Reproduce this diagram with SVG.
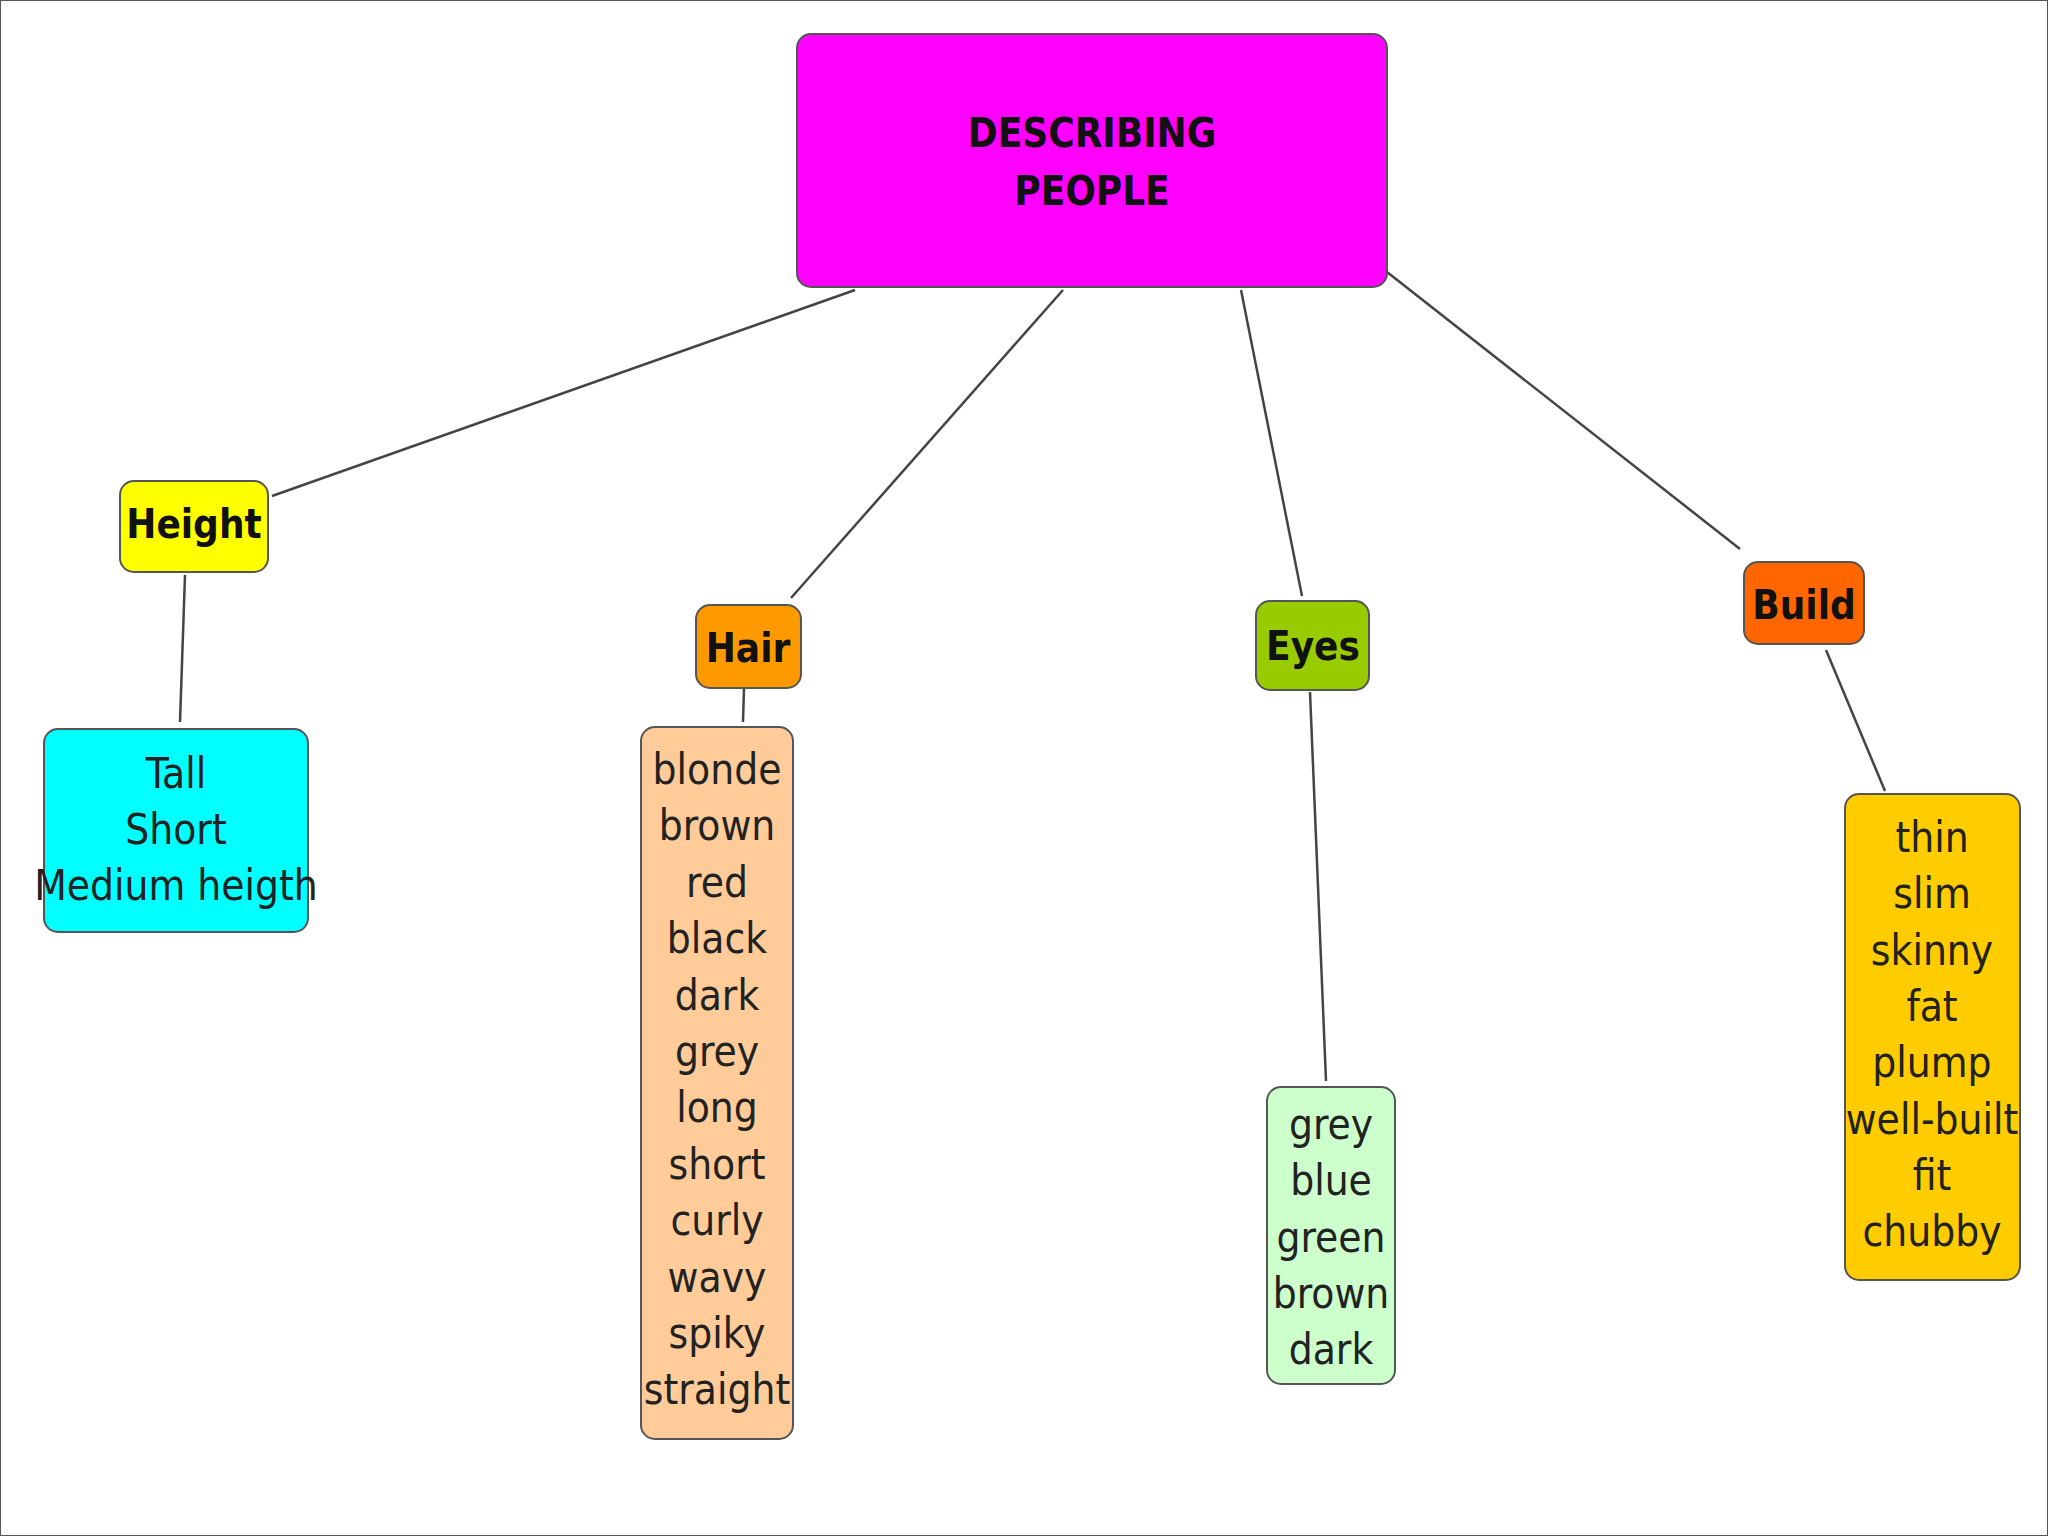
<svg xmlns="http://www.w3.org/2000/svg" width="2048" height="1536" viewBox="0 0 2048 1536">
<style>
rect{stroke:#555;stroke-width:2}
.h{font-family:"DejaVu Sans Condensed","DejaVu Sans",sans-serif;font-weight:bold;font-size:40px;text-anchor:middle;fill:#111}
.t{font-family:"DejaVu Sans Condensed","DejaVu Sans",sans-serif;font-size:42px;text-anchor:middle;fill:#222}
#c line{stroke:#444;stroke-width:2.5}
</style>
<rect x="0" y="0" width="2048" height="1536" fill="#fff" stroke="none"/>
<g id="c">
<line x1="855" y1="290" x2="272" y2="496"/>
<line x1="1063" y1="290" x2="791" y2="598"/>
<line x1="1241" y1="290" x2="1302" y2="596"/>
<line x1="1387" y1="272" x2="1740" y2="549"/>
<line x1="185" y1="575" x2="180" y2="722"/>
<line x1="744" y1="688" x2="743" y2="722"/>
<line x1="1310" y1="692" x2="1326" y2="1081"/>
<line x1="1826" y1="650" x2="1885" y2="791"/>
</g>
<g id="main"><rect x="797" y="34" width="590" height="253" rx="14" fill="#ff00ff"/>
<text class="h" x="1092" y="147">DESCRIBING</text><text class="h" x="1092" y="205">PEOPLE</text></g>
<g id="height"><rect x="120" y="481" width="148" height="91" rx="14" fill="#ffff00"/><text class="h" x="194" y="538">Height</text></g>
<g id="hair"><rect x="696" y="605" width="105" height="83" rx="14" fill="#ff9900"/><text class="h" x="748" y="662">Hair</text></g>
<g id="eyes"><rect x="1256" y="601" width="113" height="89" rx="14" fill="#99cc00"/><text class="h" x="1313" y="660">Eyes</text></g>
<g id="build"><rect x="1744" y="562" width="120" height="82" rx="14" fill="#ff6600"/><text class="h" x="1804" y="619">Build</text></g>
<g id="heightlist"><rect x="44" y="729" width="264" height="203" rx="14" fill="#00ffff"/>
<text class="t" x="176" y="788">Tall</text><text class="t" x="176" y="844">Short</text><text class="t" x="176" y="900">Medium heigth</text></g>
<g id="hairlist"><rect x="641" y="727" width="152" height="712" rx="14" fill="#ffcc99"/>
<text class="t" x="717" y="784">blonde</text><text class="t" x="717" y="840">brown</text><text class="t" x="717" y="897">red</text><text class="t" x="717" y="953">black</text><text class="t" x="717" y="1010">dark</text><text class="t" x="717" y="1066">grey</text><text class="t" x="717" y="1122">long</text><text class="t" x="717" y="1179">short</text><text class="t" x="717" y="1235">curly</text><text class="t" x="717" y="1292">wavy</text><text class="t" x="717" y="1348">spiky</text><text class="t" x="717" y="1404">straight</text></g>
<g id="eyeslist"><rect x="1267" y="1087" width="128" height="297" rx="14" fill="#ccffcc"/>
<text class="t" x="1331" y="1139">grey</text><text class="t" x="1331" y="1195">blue</text><text class="t" x="1331" y="1252">green</text><text class="t" x="1331" y="1308">brown</text><text class="t" x="1331" y="1364">dark</text></g>
<g id="buildlist"><rect x="1845" y="794" width="175" height="486" rx="14" fill="#ffcc00"/>
<text class="t" x="1932" y="852">thin</text><text class="t" x="1932" y="908">slim</text><text class="t" x="1932" y="965">skinny</text><text class="t" x="1932" y="1021">fat</text><text class="t" x="1932" y="1077">plump</text><text class="t" x="1932" y="1134">well-built</text><text class="t" x="1932" y="1190">fit</text><text class="t" x="1932" y="1246">chubby</text></g>
</svg>
